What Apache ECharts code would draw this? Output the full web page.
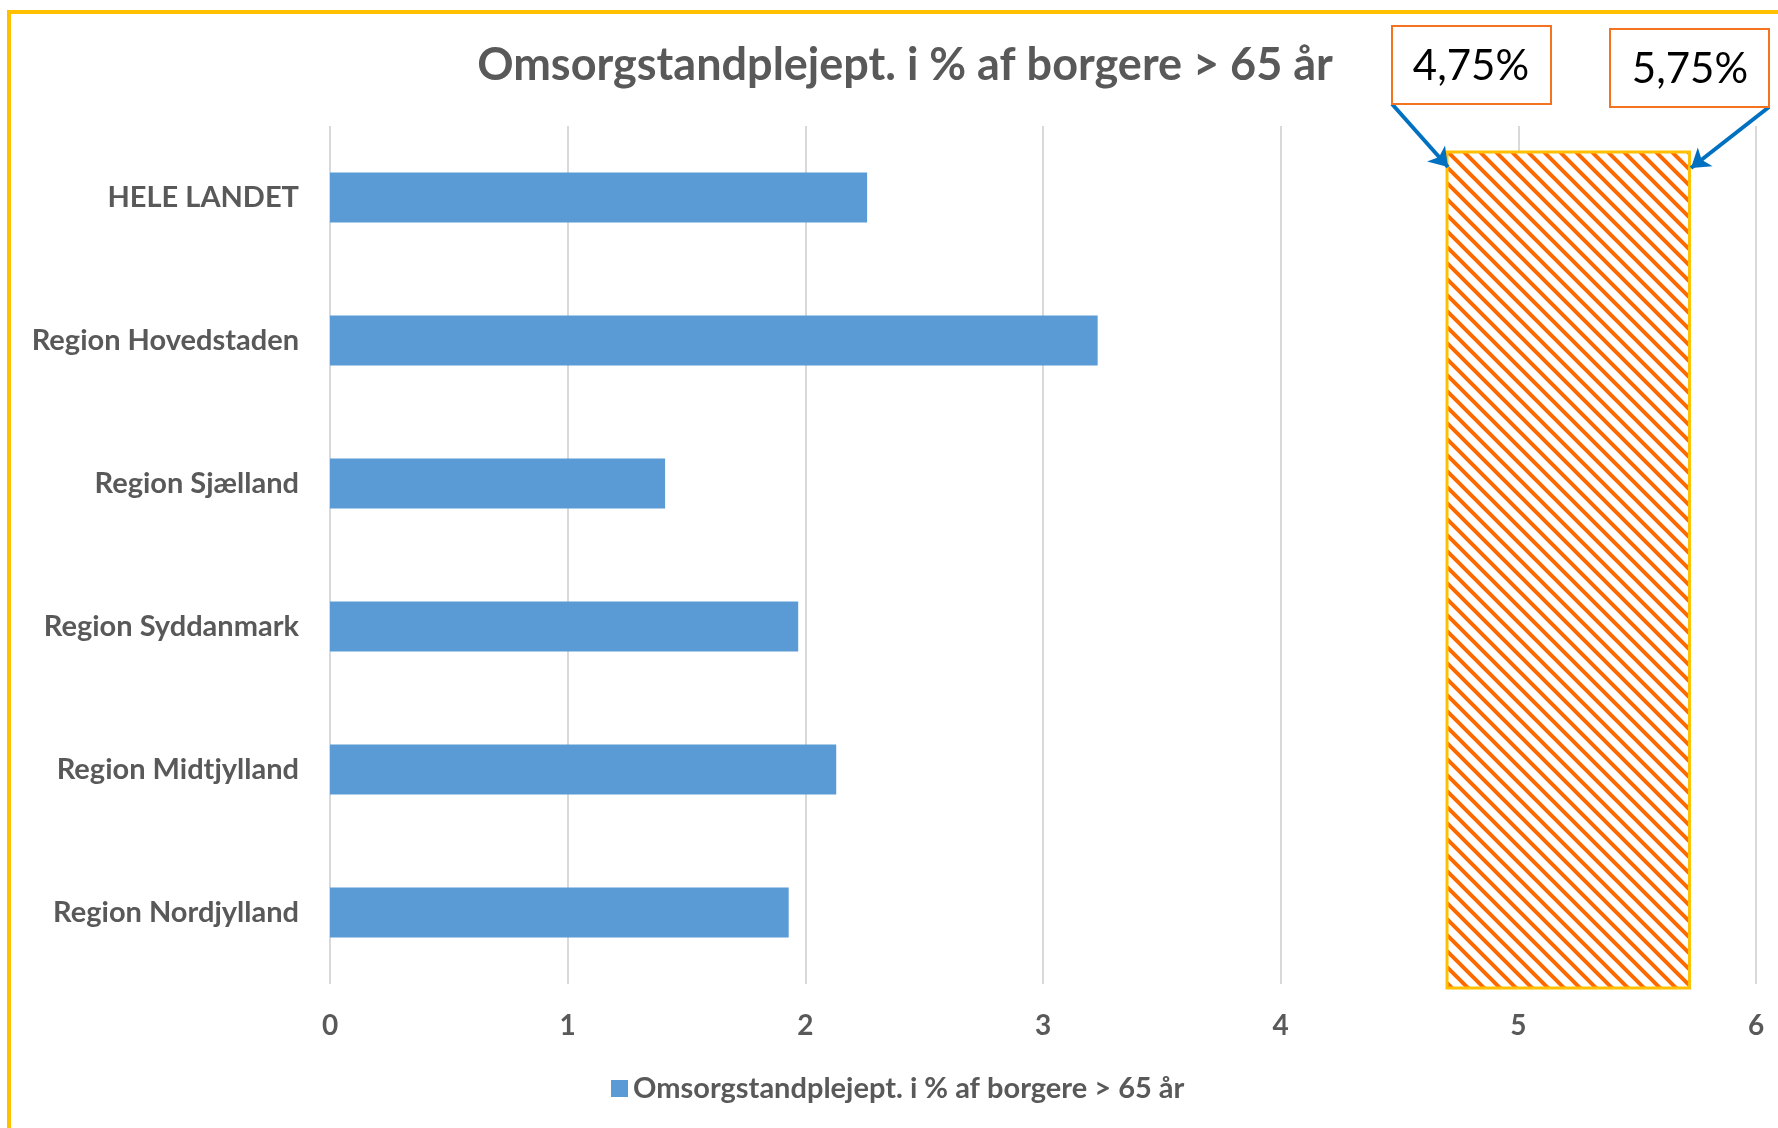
<!DOCTYPE html>
<html>
<head>
<meta charset="utf-8">
<title>Omsorgstandplejept.</title>
<script src="https://cdn.jsdelivr.net/npm/echarts@6/dist/echarts.min.js"></script>
<style>
  html, body { margin: 0; padding: 0; background: #fff; }
  #main { width: 1778px; height: 1128px; }
</style>
</head>
<body>
<div id="main"></div>
<script>
// regioner (oppefra og ned)
const regions = ['HELE LANDET', 'Region Hovedstaden', 'Region Sjælland', 'Region Syddanmark', 'Region Midtjylland', 'Region Nordjylland']
// andel i %
const values = [2.26, 3.23, 1.41, 1.97, 2.13, 1.93]
const xTicks = [0, 1, 2, 3, 4, 5, 6]
// skraveret interval (som tegnet)
const bandRange = [4.70, 5.72]
const bandLabels = ['4,75%', '5,75%']
const seriesName = 'Omsorgstandplejept. i % af borgere > 65 år'

const FONT = 'Lato'
const GREY = '#595959'

// stribet mønster til intervallet
function makeStripes () {
    const c = document.createElement('canvas')
    c.width = 16
    c.height = 16
    const ctx = c.getContext('2d')
    ctx.fillStyle = '#fff'
    ctx.fillRect(0, 0, 16, 16)
    ctx.strokeStyle = '#FF6A00'
    ctx.lineWidth = 4
    ctx.beginPath()
    ctx.moveTo(-2, -2); ctx.lineTo(18, 18)
    ctx.moveTo(-6, 10); ctx.lineTo(6, 22)
    ctx.moveTo(10, -6); ctx.lineTo(22, 6)
    ctx.stroke()
    return c
}
const stripes = makeStripes()

const myChart = echarts.init(document.getElementById('main'))

const option = {
    backgroundColor: '#fff',
    animation: false,
    title: {
        text: seriesName,
        left: 900,
        textAlign: 'center',
        top: 38,
        textStyle: { fontFamily: FONT, fontWeight: 'bold', fontSize: 45, color: GREY }
    },
    legend: {
        data: [seriesName],
        left: 611,
        top: 1074,
        padding: 0,
        icon: 'rect',
        itemWidth: 17,
        itemHeight: 17,
        itemGap: 8,
        textStyle: { fontFamily: FONT, fontWeight: 'bold', fontSize: 29, color: GREY }
    },
    grid: { left: 330, right: 22, top: 126, bottom: 144, containLabel: false },
    xAxis: {
        type: 'value',
        min: xTicks[0],
        max: xTicks[xTicks.length - 1],
        interval: 1,
        axisLine: { show: false },
        axisTick: { show: false },
        splitLine: { show: true, lineStyle: { color: '#D9D9D9', width: 2 } },
        axisLabel: { margin: 28, fontFamily: FONT, fontWeight: 'bold', fontSize: 28, color: GREY }
    },
    yAxis: {
        type: 'category',
        data: regions,
        inverse: true,
        axisLine: { show: false },
        axisTick: { show: false },
        axisLabel: { margin: 31, fontFamily: FONT, fontWeight: 'bold', fontSize: 29, color: GREY }
    },
    series: [
        {
            name: seriesName,
            type: 'bar',
            data: values,
            barWidth: '35%',
            itemStyle: { color: '#5B9BD5' },
            z: 3
        },
        {
            type: 'custom',
            silent: true,
            data: [bandRange],
            renderItem (params, api) {
                const x0 = api.coord([api.value(0), 0])[0]
                const x1 = api.coord([api.value(1), 0])[0]
                const cs = params.coordSys
                const top = cs.y + 26
                const bottom = cs.y + cs.height + 4
                return {
                    type: 'rect',
                    shape: { x: x0, y: top, width: x1 - x0, height: bottom - top },
                    style: { fill: { image: stripes, repeat: 'repeat' }, stroke: '#FFC000', lineWidth: 3 }
                }
            },
            z: 4,
            markLine: {
                silent: true,
                symbol: ['none', 'arrow'],
                symbolSize: 18,
                label: { show: false },
                lineStyle: { color: '#0070C0', width: 4, type: 'solid' },
                data: [
                    [{ x: 1392, y: 104 }, { x: 1448, y: 167 }],
                    [{ x: 1769, y: 107 }, { x: 1691, y: 168 }]
                ]
            }
        }
    ],
    graphic: [
        // gul ramme
        {
            type: 'rect',
            shape: { x: 9, y: 12, width: 1800, height: 1200 },
            style: { fill: 'none', stroke: '#FFC000', lineWidth: 4 },
            silent: true
        },
        {
            type: 'rect',
            shape: { x: 1392, y: 26, width: 159, height: 78 },
            style: { fill: '#fff', stroke: '#F47320', lineWidth: 2 },
            z: 10
        },
        {
            type: 'text',
            x: 1471,
            y: 66,
            style: { text: bandLabels[0], fontFamily: FONT, fontSize: 42, fill: '#000', align: 'center', verticalAlign: 'middle' },
            z: 11
        },
        {
            type: 'rect',
            shape: { x: 1610, y: 29, width: 159, height: 78 },
            style: { fill: '#fff', stroke: '#F47320', lineWidth: 2 },
            z: 10
        },
        {
            type: 'text',
            x: 1690,
            y: 69,
            style: { text: bandLabels[1], fontFamily: FONT, fontSize: 42, fill: '#000', align: 'center', verticalAlign: 'middle' },
            z: 11
        }
    ]
}

myChart.setOption(option)
</script>
</body>
</html>
